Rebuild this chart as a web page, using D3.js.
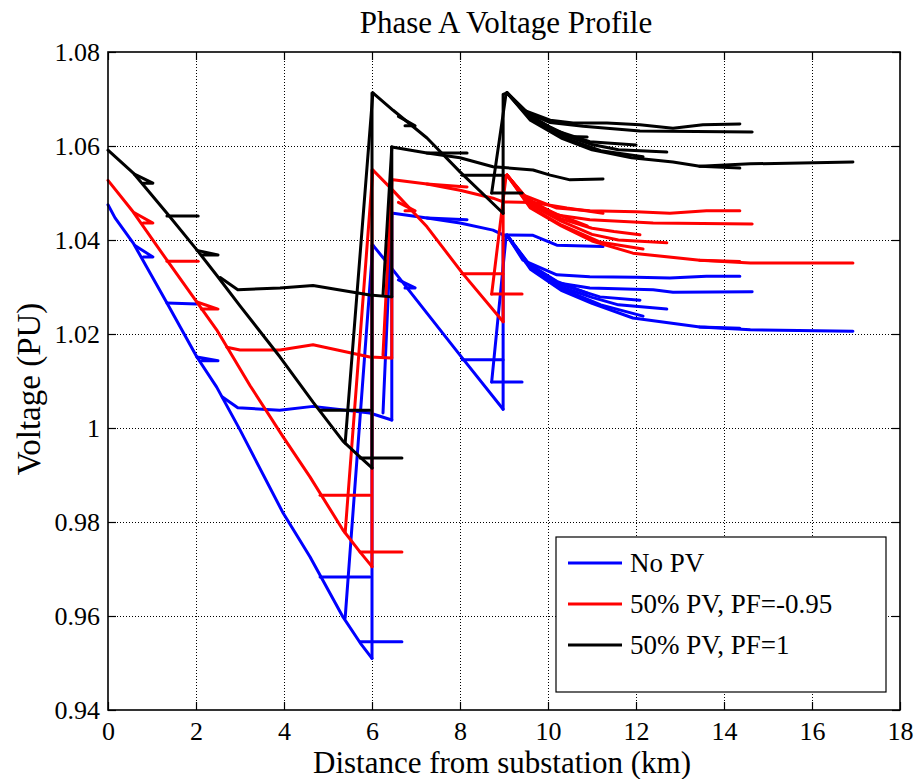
<!DOCTYPE html>
<html><head><meta charset="utf-8">
<script src="https://cdn.jsdelivr.net/npm/d3@7"></script>
<style>
html,body{margin:0;padding:0;background:#fff;}
svg text{font-family:"Liberation Serif","Times New Roman",Times,serif;fill:#000;}
</style></head>
<body>
<svg id="chart" width="915" height="779"></svg>
<script>
const title = "Phase A Voltage Profile";
const xLabel = "Distance from substation (km)";
const yLabel = "Voltage (PU)";
const xTicks = [0,2,4,6,8,10,12,14,16,18];
const yTicks = [0.94,0.96,0.98,1.00,1.02,1.04,1.06,1.08];
const yTickLabels = ["0.94","0.96","0.98","1","1.02","1.04","1.06","1.08"];
const seriesNames = ["No PV","50% PV, PF=-0.95","50% PV, PF=1"];
const seriesColors = ["#0000ff","#ff0000","#000000"];

// Each series: list of feeder branches, each a list of [km, voltage pu]
const noPV = [
 [[0,1.0475],[0.16,1.0447],[0.57,1.0394],[1.34,1.0266],[2.02,1.0151],[2.47,1.0087],[3.0,0.9996],[3.98,0.9819],[4.59,0.9726],[5.34,0.9598],[5.73,0.9543],[6.0,0.951]],
 [[0.62,1.0388],[1.02,1.0364],[0.8,1.0364]],
 [[1.34,1.0266],[2.02,1.0264]],
 [[2.02,1.0151],[2.5,1.0143],[2.12,1.0143]],
 [[2.6,1.0066],[2.95,1.0043],[3.9,1.0038],[4.66,1.0046],[5.95,1.0032],[6.45,1.0017]],
 [[6.25,1.0032],[6.45,1.0457]],
 [[6.45,1.0017],[6.45,1.0457]],
 [[5.39,0.9596],[6.02,1.0389]],
 [[6.0,0.951],[6.0,1.0389]],
 [[4.82,0.9683],[5.95,0.9683]],
 [[5.73,0.9545],[6.68,0.9545]],
 [[6.02,1.0389],[6.48,1.0336],[7.32,1.0236],[8.0,1.0155],[8.98,1.004]],
 [[6.6,1.0315],[6.98,1.0298],[6.75,1.0298]],
 [[8.05,1.0145],[8.98,1.0145]],
 [[8.72,1.0098],[9.41,1.0098]],
 [[8.98,1.004],[8.98,1.0409],[9.07,1.041]],
 [[8.72,1.0098],[9.05,1.041]],
 [[6.48,1.0457],[7.25,1.0447],[8.0,1.0436],[8.75,1.0421],[8.98,1.0411],[9.66,1.041],[10.2,1.0389],[11.25,1.0386]],
 [[7.25,1.0447],[8.16,1.0443]],
 [[9.07,1.041],[9.43,1.0357],[10.2,1.0326],[10.95,1.0322],[12.0,1.0321],[12.77,1.0319],[13.6,1.0323],[14.36,1.0323]],
 [[9.07,1.041],[9.5,1.0352],[10.2,1.0309],[10.95,1.0298],[12.39,1.0294],[12.84,1.0289],[14.64,1.029]],
 [[9.07,1.041],[9.55,1.035],[10.2,1.0312],[10.89,1.0287]],
 [[9.07,1.041],[9.6,1.0345],[10.3,1.0305],[11.18,1.0279],[12.09,1.0272]],
 [[9.07,1.041],[9.6,1.0342],[10.3,1.03],[11.0,1.0278],[11.6,1.0262],[12.7,1.0253]],
 [[9.07,1.041],[9.6,1.034],[10.3,1.0297],[11.2,1.0262],[12.16,1.0238]],
 [[9.07,1.041],[9.6,1.0338],[10.3,1.0293],[11.0,1.0265],[11.93,1.0234],[13.45,1.0215],[14.6,1.0209],[16.93,1.0206]],
 [[13.45,1.0215],[14.36,1.0212]]
];
const pv50pf095 = [
 [[0,1.0527],[0.57,1.046],[1.34,1.0357],[2.02,1.0268],[2.47,1.0209],[3.23,1.009],[3.98,0.9981],[4.59,0.9896],[5.34,0.9783],[5.73,0.9736],[6.0,0.9705]],
 [[0.6,1.0458],[1.02,1.0436],[0.8,1.0436]],
 [[1.34,1.0355],[2.05,1.0355]],
 [[2.02,1.0268],[2.5,1.0253],[2.12,1.0253]],
 [[2.7,1.0172],[3.0,1.0166],[3.91,1.0166],[4.66,1.0177],[5.95,1.0151],[6.45,1.0149]],
 [[6.25,1.0155],[6.45,1.0527]],
 [[6.45,1.0149],[6.45,1.0527]],
 [[5.39,0.9777],[6.02,1.0549]],
 [[6.0,0.9705],[6.0,1.0549]],
 [[4.82,0.9857],[5.95,0.9857]],
 [[5.73,0.9736],[6.68,0.9736]],
 [[6.02,1.0549],[6.48,1.0505],[7.25,1.0428],[8.05,1.033],[8.98,1.0226]],
 [[6.6,1.048],[6.98,1.0462],[6.75,1.0462]],
 [[8.05,1.0328],[8.98,1.0328]],
 [[8.72,1.0285],[9.41,1.0285]],
 [[8.98,1.0226],[8.98,1.0535],[9.07,1.0538]],
 [[8.72,1.0285],[9.05,1.0538]],
 [[6.48,1.0528],[7.25,1.0519],[8.0,1.0506],[8.75,1.0489],[8.98,1.0481],[9.66,1.048],[10.43,1.0468],[11.25,1.0457]],
 [[7.25,1.0519],[8.16,1.0513]],
 [[9.07,1.0538],[9.43,1.0496],[10.2,1.0468],[10.95,1.0462],[12.0,1.046],[12.77,1.0457],[13.6,1.0462],[14.36,1.0462]],
 [[9.07,1.0538],[9.5,1.049],[10.2,1.0453],[10.95,1.0443],[12.39,1.0436],[14.64,1.0434]],
 [[9.07,1.0538],[9.55,1.0482],[10.2,1.0455],[10.89,1.043]],
 [[9.07,1.0538],[9.6,1.048],[10.3,1.0445],[11.0,1.0425],[11.5,1.0418],[12.09,1.0411]],
 [[9.07,1.0538],[9.6,1.0475],[10.3,1.044],[11.0,1.0412],[11.6,1.04],[12.7,1.0394]],
 [[9.07,1.0538],[9.6,1.047],[10.3,1.0432],[11.2,1.0395],[12.16,1.0381]],
 [[9.07,1.0538],[9.6,1.0468],[10.3,1.043],[11.0,1.0398],[11.93,1.0372],[13.45,1.0357],[14.6,1.0351],[16.93,1.0351]],
 [[13.45,1.0357],[14.36,1.0354]]
];
const pv50pf1 = [
 [[0,1.0591],[0.57,1.0543],[1.34,1.0457],[2.02,1.0379],[2.47,1.0325],[3.0,1.026],[3.91,1.0151],[4.66,1.0055],[5.34,0.9972],[5.73,0.9938],[6.0,0.9915]],
 [[0.6,1.054],[1.02,1.0521],[0.8,1.0521]],
 [[1.34,1.0451],[2.05,1.0451]],
 [[2.02,1.0378],[2.5,1.0368],[2.12,1.0368]],
 [[2.55,1.032],[2.95,1.0294],[3.91,1.0298],[4.66,1.0303],[5.95,1.0283],[6.45,1.0279]],
 [[6.25,1.0283],[6.45,1.0598]],
 [[6.45,1.0279],[6.45,1.0598]],
 [[5.39,0.9968],[6.02,1.0713]],
 [[6.0,0.9915],[6.0,1.0713]],
 [[4.82,1.0038],[5.95,1.0038]],
 [[5.73,0.9936],[6.68,0.9936]],
 [[6.02,1.0713],[6.48,1.0676],[7.25,1.0617],[8.0,1.0545],[8.98,1.0457]],
 [[6.6,1.0663],[6.98,1.0643],[6.75,1.0643]],
 [[8.05,1.0538],[8.98,1.0538]],
 [[8.72,1.05],[9.41,1.05]],
 [[8.98,1.0457],[8.98,1.071],[9.07,1.0713]],
 [[8.72,1.05],[9.05,1.0713]],
 [[6.45,1.0598],[7.25,1.0585],[8.0,1.0575],[8.75,1.0556],[9.66,1.0549],[10.05,1.0538],[10.5,1.0528],[11.25,1.053]],
 [[7.25,1.0585],[8.16,1.0585]],
 [[9.07,1.0713],[9.43,1.0677],[10.05,1.0655],[10.57,1.0649],[11.34,1.0649],[12.09,1.0645],[12.84,1.0638],[13.52,1.0645],[14.36,1.0647]],
 [[9.07,1.0713],[9.5,1.0672],[10.05,1.065],[10.8,1.0642],[11.34,1.0638],[12.09,1.0632],[14.64,1.063]],
 [[9.07,1.0713],[9.6,1.0665],[10.05,1.064],[10.5,1.062],[10.89,1.0619]],
 [[9.07,1.0713],[9.6,1.0663],[10.2,1.0632],[10.95,1.0609],[12.0,1.0602]],
 [[9.07,1.0713],[9.6,1.066],[10.3,1.0625],[11.0,1.0603],[11.6,1.0592],[12.7,1.0587]],
 [[9.07,1.0713],[9.6,1.0658],[10.3,1.062],[11.2,1.059],[12.16,1.0577]],
 [[9.07,1.0713],[9.6,1.0655],[10.3,1.0617],[11.0,1.0592],[11.9,1.0575],[12.84,1.0566],[13.45,1.0557],[14.6,1.0562],[16.93,1.0566]],
 [[13.45,1.0557],[14.36,1.0553]]
];
const allSeries = [noPV, pv50pf095, pv50pf1];

const svg = d3.select("#chart");
const m = {left:108, right:900, top:52, bottom:710};
const x = d3.scaleLinear().domain([0,18]).range([m.left,m.right]);
const y = d3.scaleLinear().domain([0.94,1.08]).range([m.bottom,m.top]);

svg.append("rect").attr("width",915).attr("height",779).attr("fill","#fff");

// grid
const grid = svg.append("g").attr("stroke","#000").attr("stroke-width",1).attr("stroke-dasharray","1,2");
grid.selectAll(".gx").data(xTicks.slice(1,-1)).enter().append("line")
  .attr("x1",d=>Math.round(x(d))+0.5).attr("x2",d=>Math.round(x(d))+0.5).attr("y1",m.top).attr("y2",m.bottom);
grid.selectAll(".gy").data(yTicks.slice(1,-1)).enter().append("line")
  .attr("y1",d=>Math.round(y(d))+0.5).attr("y2",d=>Math.round(y(d))+0.5).attr("x1",m.left).attr("x2",m.right);

// data lines
const line = d3.line().x(d=>x(d[0])).y(d=>y(d[1]));
allSeries.forEach((s,i)=>{
  svg.append("g").selectAll("path").data(s).enter().append("path")
    .attr("d",line).attr("fill","none").attr("stroke",seriesColors[i])
    .attr("stroke-width",3).attr("stroke-linejoin","round").attr("stroke-linecap","round");
});

// axes with inward ticks
const tickLen = 8;
const axB = d3.axisBottom(x).tickValues(xTicks).tickSize(-tickLen).tickPadding(12).tickFormat(d3.format("d"));
const axT = d3.axisTop(x).tickValues(xTicks).tickSize(-tickLen).tickFormat("");
const axL = d3.axisLeft(y).tickValues(yTicks).tickSize(-tickLen).tickPadding(8).tickFormat((d,i)=>yTickLabels[i]);
const axR = d3.axisRight(y).tickValues(yTicks).tickSize(-tickLen).tickFormat("");
function styleAx(g){
  g.attr("font-family",null).attr("font-size",null);
  g.select(".domain").remove();
  g.selectAll("line").attr("stroke","#000").attr("stroke-width",1.2);
  g.selectAll("text").attr("font-size",26).attr("fill","#000");
}
svg.append("g").attr("transform",`translate(0,${m.bottom})`).call(axB).call(styleAx);
svg.append("g").attr("transform",`translate(0,${m.top})`).call(axT).call(styleAx);
svg.append("g").attr("transform",`translate(${m.left},0)`).call(axL).call(styleAx);
svg.append("g").attr("transform",`translate(${m.right},0)`).call(axR).call(styleAx);

svg.append("rect").attr("x",m.left).attr("y",m.top).attr("width",m.right-m.left).attr("height",m.bottom-m.top)
  .attr("fill","none").attr("stroke","#000").attr("stroke-width",1.6);

// titles
svg.append("text").attr("x",(m.left+m.right)/2+2).attr("y",33).attr("text-anchor","middle").attr("font-size",31).text(title);
svg.append("text").attr("x",(m.left+m.right)/2-2).attr("y",773).attr("text-anchor","middle").attr("font-size",31).text(xLabel);
svg.append("text").attr("transform",`translate(40,${(m.top+m.bottom)/2+8}) rotate(-90)`).attr("text-anchor","middle").attr("font-size",33).text(yLabel);

// legend
const lg = svg.append("g").attr("transform","translate(556,537)");
lg.append("rect").attr("width",330).attr("height",155).attr("fill","#fff").attr("stroke","#000").attr("stroke-width",1.2);
seriesNames.forEach((n,i)=>{
  const yy = 26 + i*41;
  lg.append("line").attr("x1",12).attr("x2",66).attr("y1",yy).attr("y2",yy).attr("stroke",seriesColors[i]).attr("stroke-width",3);
  lg.append("text").attr("x",74).attr("y",yy+9).attr("font-size",27).text(n);
});
</script>
</body></html>
